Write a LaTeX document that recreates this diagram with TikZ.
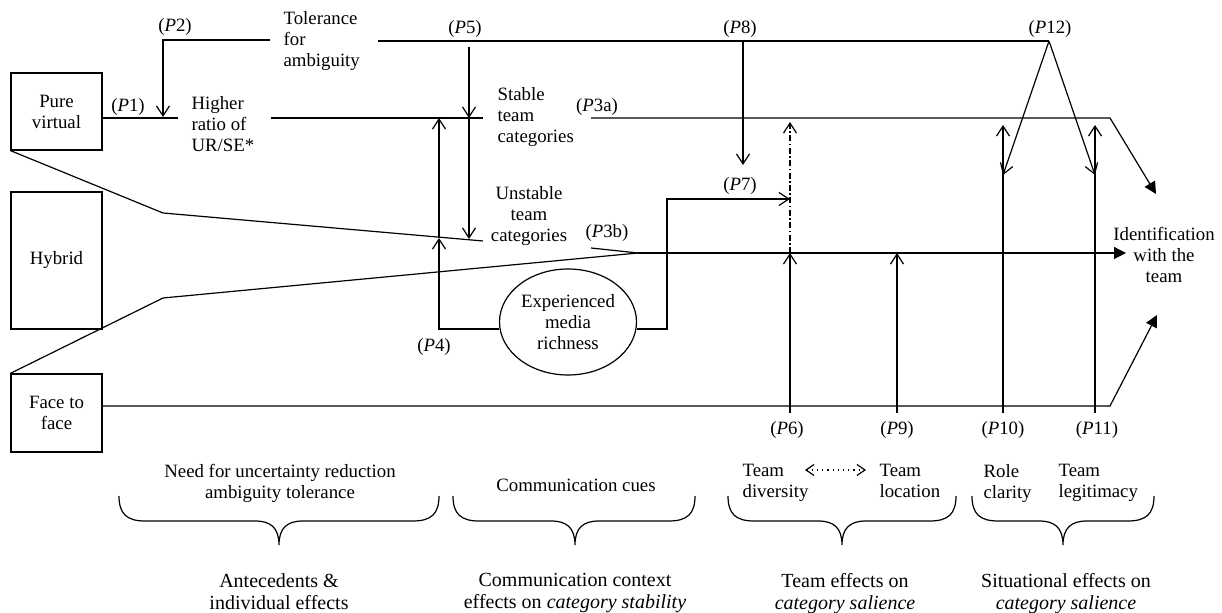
\documentclass[tikz,border=0pt]{standalone}
\usepackage{fontspec}
\setmainfont{Liberation Serif}
\usetikzlibrary{arrows.meta,shapes.geometric,calc}
\newcommand{\bracepath}[3]{%
  \draw (#1,496) .. controls (#1,514) and (#1+8,521) .. (#1+26,521) -- (#2-24,521)
        .. controls (#2-8,521) and (#2,528) .. (#2,545)
        .. controls (#2,528) and (#2+8,521) .. (#2+24,521) -- (#3-26,521)
        .. controls (#3-8,521) and (#3,514) .. (#3,496);}
\begin{document}
\begin{tikzpicture}[x=0.5pt,y=-0.5pt,line width=0.6pt,
  every node/.style={inner sep=0pt,font=\fontsize{9.4}{10.5}\selectfont},
  capt/.style={align=center,anchor=north,font=\fontsize{10}{11}\selectfont},
  box/.style={draw,minimum width=45.5pt,align=center},
  oa/.style={-{Straight Barb[length=5pt,width=6.5pt]}},
  fa/.style={-{Triangle[length=6pt,width=6pt]}},
  dashdot/.style={dash pattern=on 3pt off 1.2pt on 0.8pt off 1.2pt},
  dda/.style={dotted,{Straight Barb[length=4pt,width=5.5pt]}-{Straight Barb[length=4pt,width=5.5pt]}}]
\useasboundingbox (0,0) rectangle (1222,613);

% boxes
\node[box,minimum height=38.5pt] (pv) at (56.5,111.5) {Pure\\virtual};
\node[box,minimum height=68.5pt] (hy) at (56.5,260.5) {Hybrid};
\node[box,minimum height=39pt] (ff) at (56.5,413) {Face to\\face};

% text nodes
\node[align=left,anchor=west] (tol) at (283,41) {Tolerance\\for\\ambiguity};
\node[align=left,anchor=west] (hr) at (191,124) {Higher\\ratio of\\UR/SE*};
\node[align=left,anchor=west] (st) at (497,117) {Stable\\team\\categories};
\node[align=center] (ust) at (529,216) {Unstable\\team\\categories};
\node[ellipse,draw,minimum width=68.5pt,minimum height=53pt,align=center] (emr) at (568,322) {Experienced\\media\\richness};
\node[align=center] (id) at (1164,255) {Identification\\with the\\team};

% labels
\node (lp1) at (128,107) {(\textit{P}1)};
\node (lp2) at (175,27) {(\textit{P}2)};
\node (lp5) at (465,29) {(\textit{P}5)};
\node (lp8) at (740,29) {(\textit{P}8)};
\node (lp12) at (1050,29) {(\textit{P}12)};
\node (lp3a) at (597,107) {(\textit{P}3a)};
\node (lp7) at (740,186) {(\textit{P}7)};
\node (lp3b) at (607,233) {(\textit{P}3b)};
\node (lp4) at (434,347) {(\textit{P}4)};
\node (lp6) at (787,430) {(\textit{P}6)};
\node (lp9) at (897,430) {(\textit{P}9)};
\node (lp10) at (1003,430) {(\textit{P}10)};
\node (lp11) at (1097,430) {(\textit{P}11)};

% coordinates
\coordinate (pvr) at (102,118);
\coordinate (hrl) at (178,118);
\coordinate (tolw) at (270,40);
\coordinate (p2c) at (163,40);
\coordinate (p2t) at (163,117);
\coordinate (tole) at (378,41);
\coordinate (apex) at (1049,41);
\coordinate (hre) at (271,118);
\coordinate (stl) at (483,118);
\coordinate (str) at (591,118);
\coordinate (stc) at (1110,118);
\coordinate (idt1) at (1156,194);
\coordinate (p5s) at (469,47);
\coordinate (p5m) at (469,118);
\coordinate (p5e) at (469,239);
\coordinate (emrw) at ($(emr.west)+(0,7)$);
\coordinate (emre) at ($(emr.east)+(0,7)$);
\coordinate (p4c) at (439,329);
\coordinate (p4m) at (439,238);
\coordinate (p4t) at (439,118);
\coordinate (p7c1) at (667,329);
\coordinate (p7c2) at (667,199);
\coordinate (p7t) at (790,199);
\coordinate (h1) at (163,213);
\coordinate (ue) at (483,241);
\coordinate (h2) at (163,298);
\coordinate (hm) at (638,253);
\coordinate (p3bs) at (591,248);
\coordinate (idm) at (1126,253);
\coordinate (p8s) at (743,42);
\coordinate (p8t) at (743,165);
\coordinate (p6b) at (790,413);
\coordinate (p6m) at (790,253);
\coordinate (p6t) at (790,122);
\coordinate (p9b) at (897,413);
\coordinate (p9t) at (897,253);
\coordinate (p10b) at (1003,413);
\coordinate (p10t) at (1003,125);
\coordinate (p11b) at (1095,413);
\coordinate (p11t) at (1095,125);
\coordinate (p12a) at (1003,175);
\coordinate (p12b) at (1095,175);
\coordinate (ffr) at (102,406);
\coordinate (ffc) at (1110,406);
\coordinate (idt3) at (1157,315);

% connectors
\draw (pvr) -- (hrl);
\draw[oa] (tolw) -- (p2c) -- (p2t);
\draw (tole) -- (apex);
\draw (hre) -- (stl);
\draw[fa] (str) -- (stc) -- (idt1);
\draw[oa] (p5s) -- (p5m);
\draw[oa] (p5m) -- (p5e);
\draw[oa] (emrw) -- (p4c) -- (p4m);
\draw[oa] (p4m) -- (p4t);
\draw[oa] (emre) -- (p7c1) -- (p7c2) -- (p7t);
\draw (pv.south west) -- (h1) -- (ue);
\draw (ff.north west) -- (h2) -- (hm);
\draw (p3bs) -- (hm);
\draw[fa] (hm) -- (idm);
\draw[oa] (p8s) -- (p8t);
\draw[oa] (p6b) -- (p6m);
\draw[oa,dashdot] (p6m) -- (p6t);
\draw[oa] (p9b) -- (p9t);
\draw[oa] (p10b) -- (p10t);
\draw[oa] (p11b) -- (p11t);
\draw[oa] (apex) -- (p12a);
\draw[oa] (apex) -- (p12b);
\draw[fa] (ffr) -- (ffc) -- (idt3);

% bottom groups
\node[align=center,anchor=north] (nfu) at (280,464) {Need for uncertainty reduction\\ambiguity tolerance};
\node[anchor=north] (cc) at (576,478) {Communication cues};
\node[align=left,anchor=north west] (td) at (742,464) {Team\\diversity};
\node[align=left,anchor=north west] (tloc) at (879,464) {Team\\location};
\node[align=left,anchor=north west] (rc) at (983,464) {Role\\clarity};
\node[align=left,anchor=north west] (tleg) at (1058,464) {Team\\legitimacy};
\coordinate (da1) at (805,470);
\coordinate (da2) at (866,470);
\draw[dda] (da1) -- (da2);

\bracepath{119}{279}{439}
\bracepath{453}{575}{695}
\bracepath{728}{842}{956}
\bracepath{972}{1063}{1154}

\node[capt] (c1) at (279,573) {Antecedents \&\\individual effects};
\node[capt] (c2) at (575,573) {Communication context\\effects on \textit{category stability}};
\node[capt] (c3) at (845,573) {Team effects on\\\textit{category salience}};
\node[capt] (c4) at (1066,573) {Situational effects on\\\textit{category salience}};
\end{tikzpicture}
\end{document}
